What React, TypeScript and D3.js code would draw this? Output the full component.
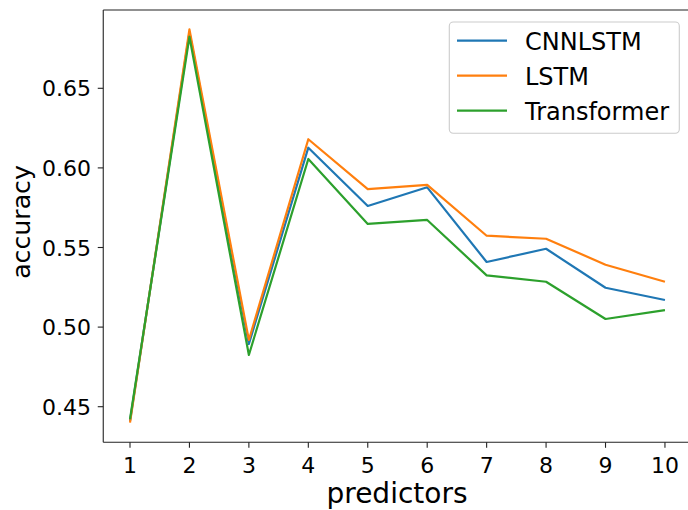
import React from "react";
import * as d3 from "d3";

const predictors = [1, 2, 3, 4, 5, 6, 7, 8, 9, 10];
const seriesNames = ["CNNLSTM", "LSTM", "Transformer"];
const cnnlstm = [0.441, 0.685, 0.4894, 0.6127, 0.5761, 0.5878, 0.5409, 0.5492, 0.5247, 0.517];
const lstm = [0.44, 0.687, 0.4919, 0.618, 0.5867, 0.5893, 0.5574, 0.5555, 0.5392, 0.5285];
const transformer = [0.4421, 0.6824, 0.4825, 0.6056, 0.5648, 0.5673, 0.5325, 0.5285, 0.5051, 0.5107];
const yTicks = [0.45, 0.5, 0.55, 0.6, 0.65];
const colors = ["#1f77b4", "#ff7f0e", "#2ca02c"];

const W = 688;
const H = 510;
const FONT = "DejaVu Sans, sans-serif";

export default function App() {
  const x = d3.scaleLinear().domain([0.55, 10.45]).range([103.25, 691.7]);
  const y = d3.scaleLinear().domain([0.42764, 0.69918]).range([442.3, 10]);
  const all = [cnnlstm, lstm, transformer];
  const line = d3
    .line<number>()
    .x((_, i) => x(predictors[i]))
    .y((d) => y(d));
  const left = x.range()[0];
  const bottom = y.range()[0];
  const top = y.range()[1];

  return (
    <svg
      width={W}
      height={H}
      style={{ position: "absolute", left: 0, top: 0, background: "#fff" }}
      fontFamily={FONT}
    >
      <rect x={0} y={0} width={W} height={H} fill="#fff" />
      {all.map((s, k) => (
        <path key={k} d={line(s) || ""} fill="none" stroke={colors[k]} strokeWidth={2.2} strokeLinejoin="round" />
      ))}
      {/* spines */}
      <line x1={left} x2={W} y1={top} y2={top} stroke="#222" strokeWidth={1.1} />
      <line x1={left} x2={W} y1={bottom} y2={bottom} stroke="#222" strokeWidth={1.1} />
      <line x1={left} x2={left} y1={top} y2={bottom} stroke="#222" strokeWidth={1.1} />
      {/* x ticks */}
      {predictors.map((p) => (
        <g key={p}>
          <line x1={x(p)} x2={x(p)} y1={bottom} y2={bottom + 5.5} stroke="#222" strokeWidth={1.1} />
          <text x={x(p)} y={472.7} textAnchor="middle" fontSize={22} fill="#000">
            {p}
          </text>
        </g>
      ))}
      {/* y ticks */}
      {yTicks.map((t) => (
        <g key={t}>
          <line x1={left - 5.5} x2={left} y1={y(t)} y2={y(t)} stroke="#222" strokeWidth={1.1} />
          <text x={91} y={y(t) + 8.2} textAnchor="end" fontSize={22} fill="#000">
            {t.toFixed(2)}
          </text>
        </g>
      ))}
      <text x={397} y={503} textAnchor="middle" fontSize={28} fill="#000">
        predictors
      </text>
      <text
        transform={`translate(29.5,222) rotate(-90)`}
        textAnchor="middle"
        fontSize={25.2}
        fill="#000"
      >
        accuracy
      </text>
      {/* legend */}
      <rect x={449.3} y={22} width={230} height={111.3} rx={4} fill="#fff" fillOpacity={0.8} stroke="#cccccc" strokeWidth={1.1} />
      {seriesNames.map((n, k) => (
        <g key={n}>
          <line x1={457} x2={507} y1={40.7 + k * 35} y2={40.7 + k * 35} stroke={colors[k]} strokeWidth={2.2} />
          <text x={525} y={49.5 + k * 35} fontSize={24} fill="#000">
            {n}
          </text>
        </g>
      ))}
    </svg>
  );
}
